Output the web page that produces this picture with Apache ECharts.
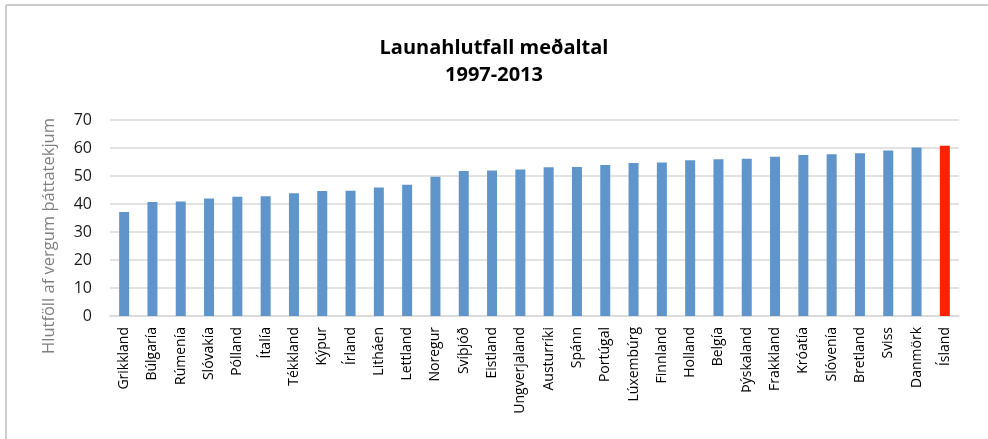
<!DOCTYPE html>
<html>
<head>
<meta charset="utf-8">
<script src="https://cdn.jsdelivr.net/npm/echarts@6/dist/echarts.min.js"></script>
<style>
  html, body { margin: 0; padding: 0; background: #fff; }
  #chart { width: 988px; height: 439px; }
</style>
</head>
<body>
<div id="chart"></div>
<script>
// Launahlutfall, meðaltal 1997-2013
const countries = ['Grikkland', 'Búlgaría', 'Rúmenía', 'Slóvakía', 'Pólland', 'Ítalía', 'Tékkland', 'Kýpur',
  'Írland', 'Litháen', 'Lettland', 'Noregur', 'Svíþjóð', 'Eistland', 'Ungverjaland', 'Austurríki',
  'Spánn', 'Portúgal', 'Lúxembúrg', 'Finnland', 'Holland', 'Belgía', 'Þýskaland', 'Frakkland',
  'Króatía', 'Slóvenía', 'Bretland', 'Sviss', 'Danmörk', 'Ísland'];
const values = [37.1, 40.7, 40.9, 42.0, 42.6, 42.8, 43.8, 44.6,
  44.7, 45.9, 46.9, 49.7, 51.8, 52.0, 52.3, 53.1,
  53.2, 53.9, 54.6, 54.8, 55.6, 56.0, 56.2, 56.9,
  57.5, 57.8, 58.1, 59.1, 60.2, 60.8];
const highlight = 'Ísland';

const chart = echarts.init(document.getElementById('chart'));
chart.setOption({
  animation: false,
  backgroundColor: '#fff',
  title: {
    text: 'Launahlutfall meðaltal\n1997-2013',
    left: 'center',
    top: 30,
    textStyle: {
      fontFamily: 'Open Sans',
      fontWeight: 'bold',
      fontSize: 20,
      lineHeight: 27,
      color: '#000'
    }
  },
  graphic: [
    { type: 'line', shape: { x1: 6, y1: 5, x2: 988, y2: 5 }, style: { stroke: '#cccccc', lineWidth: 2 } },
    { type: 'line', shape: { x1: 6, y1: 5, x2: 6, y2: 439 }, style: { stroke: '#cccccc', lineWidth: 2 } }
  ],
  grid: { left: 110, right: 29, top: 120, bottom: 123 },
  xAxis: {
    type: 'category',
    data: countries,
    axisLine: { lineStyle: { color: '#d9d9d9', width: 1.5 } },
    axisTick: { show: false },
    axisLabel: {
      rotate: 90,
      interval: 0,
      margin: 11,
      fontFamily: 'Open Sans',
      fontSize: 14,
      color: '#000'
    }
  },
  yAxis: {
    type: 'value',
    min: 0,
    max: 70,
    interval: 10,
    name: 'Hlutföll af vergum þáttatekjum',
    nameLocation: 'middle',
    nameGap: 52,
    nameTextStyle: { fontFamily: 'Open Sans', fontSize: 16.5, color: '#7f7f7f', padding: [0, 36, 0, 0] },
    axisLine: { show: false },
    axisTick: { show: false },
    splitLine: { lineStyle: { color: '#d9d9d9', width: 1.5 } },
    axisLabel: { fontFamily: 'Open Sans', fontSize: 16, color: '#1a1a1a', margin: 18 }
  },
  series: [{
    type: 'bar',
    barWidth: 10,
    data: values.map((v, i) => ({
      value: v,
      itemStyle: { color: countries[i] === highlight ? '#ff2200' : '#5f95ca' }
    }))
  }]
});
</script>
</body>
</html>
